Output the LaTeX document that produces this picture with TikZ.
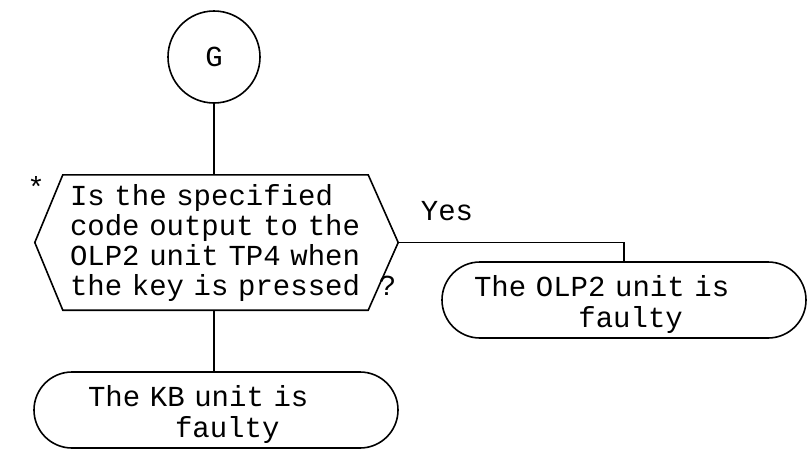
\documentclass[tikz,border=0pt]{standalone}
\usepackage{fontspec}
\setmainfont{Liberation Mono}
\newcommand{\lowerstrut}{\rule{0pt}{31pt}}
\begin{document}
\begin{tikzpicture}[x=1pt,y=-1pt,
  outline/.style={draw=black, line width=1.6pt},
  link/.style={draw=black, line width=1.2pt},
  txt/.style={font=\fontsize{29pt}{30pt}\selectfont, inner sep=0pt},
  terminal/.style={outline, txt, rounded corners=38pt, minimum width=364pt,
    minimum height=76pt, align=left,
    font=\fontsize{29pt}{31pt}\selectfont},
]
% page area
\path[fill=white, use as bounding box] (0,0) rectangle (808,450);

% connector circle
\node[outline, txt, circle, minimum size=92pt] (g) at (214,57) {G};

% decision box (hexagon drawn around the text node)
\node[txt, text width=291pt, align=left, minimum width=305pt,
      minimum height=135pt] (q) at (215.5,242.5)
  {Is the specified\\code output to the\\OLP2 unit TP4 when\\the key is pressed\rlap{\hspace{19pt}?}};
\coordinate (qw) at ([xshift=-28pt]q.west);
\coordinate (qe) at ([xshift=30pt]q.east);
\draw[outline, line join=miter] (q.north west) -- (q.north east) -- (qe)
  -- (q.south east) -- (q.south west) -- (qw) -- cycle;
\node[txt, anchor=base] (mark) at (36,197) {*};

% outcomes
\node[terminal, text width=300pt] (olp) at (624,300)
  {\lowerstrut The OLP2 unit is\\\phantom{xxxxxx}faulty};
\node[terminal, text width=256pt] (kb) at (216,410)
  {\lowerstrut The KB unit is\\\phantom{xxxxx}faulty};

% connectors
\draw[link] (g.south) -- (g.south |- q.north);
\draw[link] (g.south |- q.south) -- (g.south |- kb.north);
\draw[link] (qe) -| (olp.north);
\node[txt] (yes) at (447,211) {Yes};
\end{tikzpicture}
\end{document}
